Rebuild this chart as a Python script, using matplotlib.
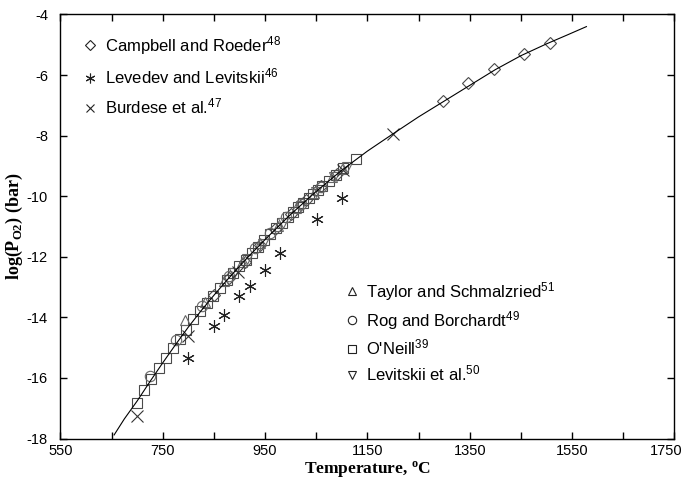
import matplotlib
matplotlib.use("Agg")
import matplotlib.pyplot as plt
from matplotlib.lines import Line2D
from matplotlib.ticker import FixedLocator, MultipleLocator
from matplotlib.transforms import ScaledTranslation

plt.rcParams['font.family'] = ['Liberation Sans', 'DejaVu Sans']
plt.rcParams['mathtext.fontset'] = 'custom'
plt.rcParams['mathtext.rm'] = 'Liberation Sans'
plt.rcParams['mathtext.it'] = 'Liberation Sans:italic'
plt.rcParams['mathtext.bf'] = 'Liberation Sans:bold'
plt.rcParams['axes.unicode_minus'] = False

# ---- data ----
curve_T = [655, 675, 700, 725, 750, 775, 800, 825, 850, 875, 900, 925, 950, 975,
           1000, 1050, 1100, 1150, 1200, 1250, 1300, 1350, 1400, 1450, 1500, 1540, 1578]
curve_Y = [-17.88, -17.35, -16.76, -16.12, -15.50, -14.90, -14.32, -13.78, -13.27, -12.78,
           -12.31, -11.86, -11.43, -11.01, -10.60, -9.84, -9.14, -8.51, -7.94, -7.38,
           -6.86, -6.34, -5.82, -5.36, -4.97, -4.68, -4.40]

campbell_T = [850, 880, 910, 940, 970, 1000, 1030, 1060, 1090, 1297, 1347, 1397, 1456, 1507]
campbell_Y = [-13.25, -12.70, -12.18, -11.62, -11.07, -10.58, -10.12, -9.66, -9.26,
              -6.84, -6.27, -5.80, -5.31, -4.93]

levedev_T = [800, 850, 870, 900, 920, 950, 979, 1051, 1101]
levedev_Y = [-15.35, -14.27, -13.92, -13.31, -12.95, -12.43, -11.88, -10.75, -10.05]

burdese_T = [700, 800, 897, 1103, 1200]
burdese_Y = [-17.27, -14.63, -12.49, -9.13, -7.94]

taylor_T = [793, 833, 870, 905, 940, 975, 1010, 1045, 1080, 1100]
taylor_Y = [-14.08, -13.50, -12.80, -12.16, -11.55, -10.98, -10.40, -9.88, -9.38, -9.10]

rog_T = [726, 776, 826, 880, 930, 960, 990, 1020, 1060]
rog_Y = [-15.95, -14.74, -13.64, -12.63, -11.72, -11.20, -10.70, -10.25, -9.68]

oneill_T = [700, 714, 727, 742, 756, 771, 784, 796, 810, 823, 836, 849, 862, 875, 888, 900,
            912, 924, 936, 948, 960, 971, 983, 995, 1005, 1015, 1025, 1035, 1044, 1053,
            1062, 1075, 1088, 1103, 1127]
oneill_Y = [-16.81, -16.40, -16.02, -15.68, -15.35, -15.00, -14.70, -14.40, -14.06, -13.80,
            -13.52, -13.28, -13.02, -12.78, -12.54, -12.31, -12.09, -11.87, -11.66, -11.45,
            -11.25, -11.05, -10.88, -10.68, -10.52, -10.37, -10.22, -10.07, -9.93, -9.80,
            -9.67, -9.49, -9.31, -9.08, -8.78]

levitskii_T = [890, 915, 945, 985, 1020, 1050, 1085, 1110]
levitskii_Y = [-12.55, -12.08, -11.58, -10.90, -10.33, -9.86, -9.38, -9.05]

x_major = [550, 750, 950, 1150, 1350, 1550, 1750]
x_minor = [650, 850, 1050, 1250, 1450, 1650]

fig = plt.figure(figsize=(6.84, 4.83), dpi=100)
ax = fig.add_axes([0.0883, 0.092, 0.8977, 0.878])

ec = '#4a4a4a'
common = dict(linestyle='none', markerfacecolor='none', markeredgewidth=0.8)

ax.plot(curve_T, curve_Y, color='black', lw=0.8, zorder=5)
ax.plot(oneill_T, oneill_Y, marker='s', ms=7, markeredgecolor=ec, **common)
ax.plot(campbell_T, campbell_Y, marker='D', ms=6.5, markeredgecolor=ec, **common)
ax.plot(rog_T, rog_Y, marker='o', ms=7.5, markeredgecolor='#666666', **common)
ax.plot(taylor_T, taylor_Y, marker='^', ms=7, markeredgecolor='#666666', **common)
ax.plot(levitskii_T, levitskii_Y, marker='v', ms=7, markeredgecolor='#666666', **common)
ax.plot(burdese_T, burdese_Y, marker='x', ms=8, markeredgecolor='#333333', **common)
ax.plot(levedev_T, levedev_Y, marker=(6, 2, 0), ms=9, markeredgecolor='#222222', **common)

ax.set_xlim(550, 1750)
ax.set_ylim(-18, -4)
ax.xaxis.set_major_locator(FixedLocator(x_major))
ax.xaxis.set_minor_locator(FixedLocator(x_minor))
ax.yaxis.set_major_locator(MultipleLocator(2))
ax.tick_params(which='both', direction='in', top=True, right=True, length=5, width=1,
               labelsize=10.5)
ax.tick_params(axis='x', pad=4)
ax.tick_params(axis='y', pad=9)
for s in ax.spines.values():
    s.set_linewidth(1.0)

# keep the last x tick label inside the figure
fig.canvas.draw()
last = ax.get_xticklabels()[-1]
last.set_transform(last.get_transform() + ScaledTranslation(-8 / 100, 0, fig.dpi_scale_trans))

ax.set_xlabel('Temperature, $^{\\mathregular{o}}$C', fontsize=12.5, fontweight='bold',
              family='Liberation Serif', labelpad=1)
ax.set_ylabel('log(P$_{\\mathregular{O2}}$) (bar)', fontsize=13, fontweight='bold',
              family='Liberation Serif', labelpad=1)

def h(marker, ms, color):
    return Line2D([], [], linestyle='none', marker=marker, ms=ms, markerfacecolor='none',
                  markeredgecolor=color, markeredgewidth=0.8)

leg1 = ax.legend([h('D', 5.5, '#222'), h((6, 2, 0), 7, '#222'), h('x', 6, '#222')],
                 ['Campbell and Roeder$^{48}$', 'Levedev and Levitskii$^{46}$',
                  'Burdese et al.$^{47}$'],
                 loc='upper left', bbox_to_anchor=(0.025, 0.97), frameon=False,
                 fontsize=12, handlelength=0.9, handletextpad=0.45, labelspacing=0.6,
                 borderaxespad=0)
ax.add_artist(leg1)
ax.legend([h('^', 6, '#222'), h('o', 6, '#222'), h('s', 5.5, '#222'), h('v', 6, '#222')],
          ['Taylor and Schmalzried$^{51}$', 'Rog and Borchardt$^{49}$', "O'Neill$^{39}$",
           'Levitskii et al.$^{50}$'],
          loc='upper left', bbox_to_anchor=(0.452, 0.39), frameon=False,
          fontsize=12, handlelength=0.9, handletextpad=0.4, labelspacing=0.36,
          borderaxespad=0)

fig.savefig('out.png', dpi=100)
